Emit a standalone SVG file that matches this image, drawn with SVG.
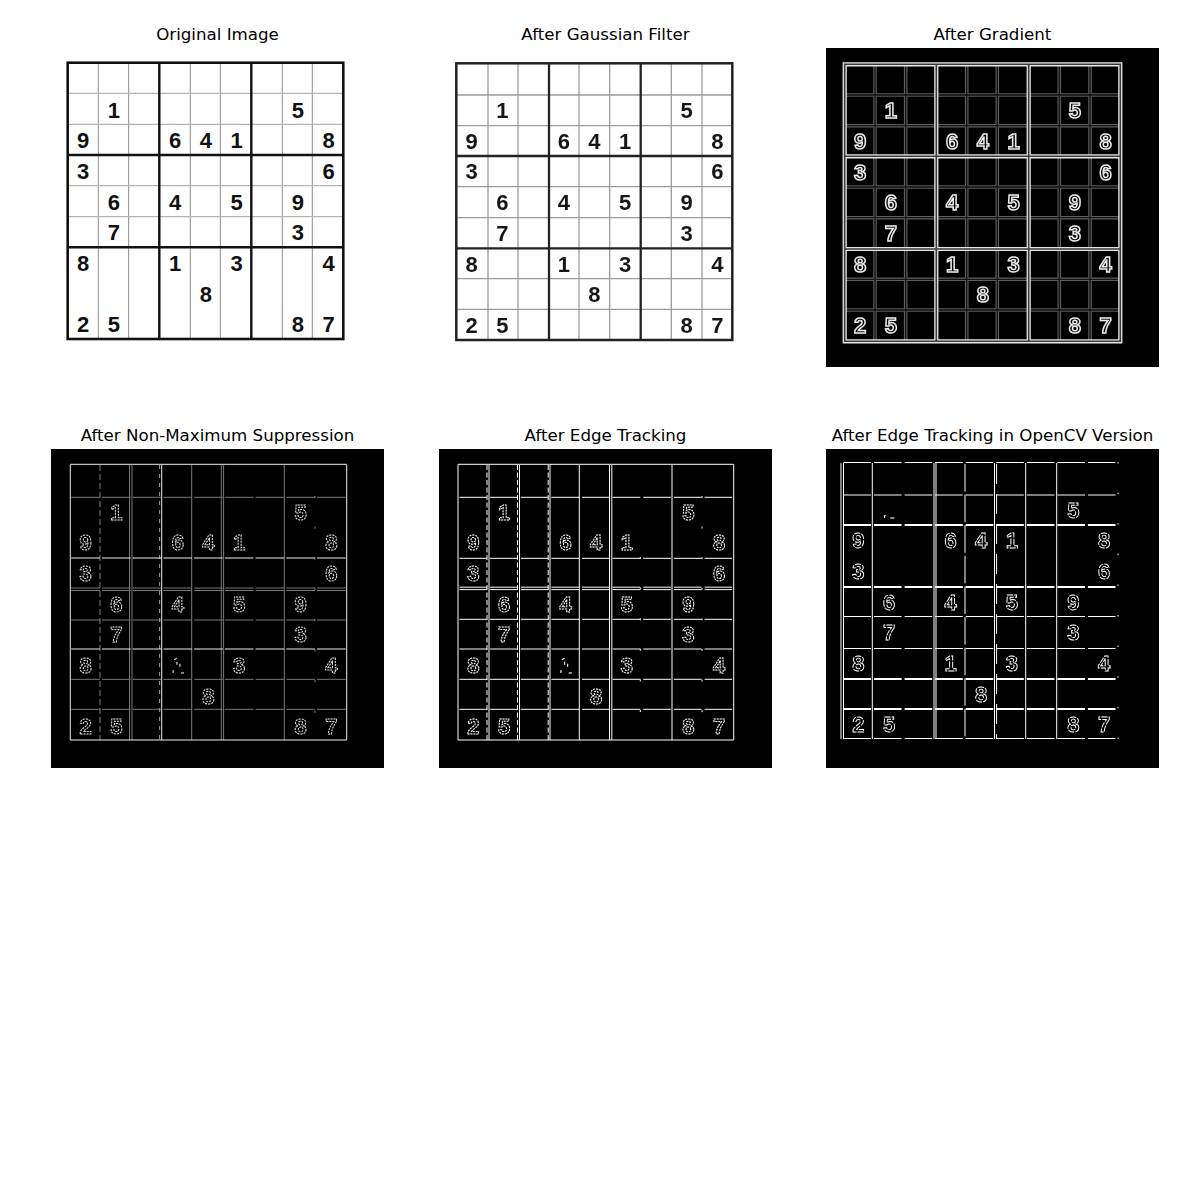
<svg xmlns="http://www.w3.org/2000/svg" xmlns:xlink="http://www.w3.org/1999/xlink" width="1200" height="1200" viewBox="0 0 1200 1200">
<style>
.title{font-family:"DejaVu Sans",sans-serif;font-size:16.67px;fill:#000;text-anchor:middle}
.dg text{font-family:"Liberation Sans",Arial,sans-serif;font-weight:bold;font-size:22px;text-anchor:middle}
.d1 text{fill:#111}
.d2 text{fill:#161616}
.d3 text{fill:#000;stroke:#ececec;stroke-width:1.5}
.d4 text{fill:none;stroke:#e0e0e0;stroke-width:1;stroke-dasharray:2 1}
.d5 text{fill:none;stroke:#fff;stroke-width:1;stroke-dasharray:2 0.9}
.d6 text{fill:none;stroke:#fff;stroke-width:0.9;stroke-dasharray:6 1.2}
.d4 text.frag,.d5 text.frag{stroke-dasharray:3 9}
.d6 text.frag{stroke-dasharray:4 45}
.ln{fill:none}
</style>
<defs>
<filter id="blur" x="-5%" y="-5%" width="110%" height="110%"><feGaussianBlur stdDeviation="0.6"/></filter>
<filter id="blur3" x="-5%" y="-5%" width="110%" height="110%"><feGaussianBlur stdDeviation="0.35"/></filter>
<filter id="gray" x="-5%" y="-5%" width="110%" height="110%"><feColorMatrix type="saturate" values="0"/></filter>
<path id="p3thin" d="M875 64.3V341.3M905.7 64.3V341.3M966.7 64.3V341.3M997.3 64.3V341.3M1059.3 64.3V341.3M1090 64.3V341.3M844.7 95H1120.3M844.7 125.7H1120.3M844.7 187H1120.3M844.7 217.7H1120.3M844.7 279.3H1120.3M844.7 310H1120.3"/>
<path id="p3thick" d="M936.3 64.3V341.3M1028.7 64.3V341.3M844.7 156.3H1120.3M844.7 249H1120.3M844.7 64.3H1120.3V341.3H844.7Z"/>
</defs>
<rect width="1200" height="1200" fill="#fff"/>

<g id="titles">
<text class="title" x="217.5" y="40">Original Image</text>
<text class="title" x="605.5" y="40">After Gaussian Filter</text>
<text class="title" x="992.5" y="40">After Gradient</text>
<text class="title" x="217.5" y="441">After Non-Maximum Suppression</text>
<text class="title" x="605.5" y="441">After Edge Tracking</text>
<text class="title" x="992.5" y="441">After Edge Tracking in OpenCV Version</text>
</g>

<!-- Panel 1: Original -->
<g id="panel-original">
<path class="ln" stroke="#8c8c8c" stroke-width="1" d="M98.3 62.7V339M128.7 62.7V339M190.3 62.7V339M220.3 62.7V339M282.3 62.7V339M312.3 62.7V339"/>
<path class="ln" stroke="#b4b4b4" stroke-width="1.2" d="M67.7 93.3H343.3M67.7 124.3H343.3M67.7 185.7H343.3M67.7 216.7H343.3"/>
<path class="ln" stroke="#111" stroke-width="2.4" d="M159.3 62.7V339M251.3 62.7V339M67.7 155H343.3M67.7 247.3H343.3"/>
<rect x="67.7" y="62.7" width="275.6" height="276.3" fill="none" stroke="#111" stroke-width="2.6"/>
<g class="dg d1" transform="translate(67.7,63.5)">
<text x="46.1" y="54">1</text><text x="230.3" y="54">5</text>
<text x="15.4" y="84.7">9</text><text x="107.5" y="84.7">6</text><text x="138.2" y="84.7">4</text><text x="168.9" y="84.7">1</text><text x="261" y="84.7">8</text>
<text x="15.4" y="115.4">3</text><text x="261" y="115.4">6</text>
<text x="46.1" y="146.1">6</text><text x="107.5" y="146.1">4</text><text x="168.9" y="146.1">5</text><text x="230.3" y="146.1">9</text>
<text x="46.1" y="176.8">7</text><text x="230.3" y="176.8">3</text>
<text x="15.4" y="207.5">8</text><text x="107.5" y="207.5">1</text><text x="168.9" y="207.5">3</text><text x="261" y="207.5">4</text>
<text x="138.2" y="238.2">8</text>
<text x="15.4" y="268.9">2</text><text x="46.1" y="268.9">5</text><text x="230.3" y="268.9">8</text><text x="261" y="268.9">7</text>
</g>
</g>

<!-- Panel 2: Gaussian -->
<g id="panel-gaussian" filter="url(#blur)">
<path class="ln" stroke="#9c9c9c" stroke-width="1.3" d="M488 63.3V340M518 63.3V340M579 63.3V340M609.7 63.3V340M671.3 63.3V340M702 63.3V340M456.3 95H732.3M456.3 125.7H732.3M456.3 186.7H732.3M456.3 217.7H732.3M456.3 278.7H732.3M456.3 309.3H732.3"/>
<path class="ln" stroke="#222" stroke-width="2.3" d="M549 63.3V340M640.7 63.3V340M456.3 156H732.3M456.3 248.3H732.3"/>
<rect x="456.3" y="63.3" width="276" height="276.7" fill="none" stroke="#222" stroke-width="2.5"/>
<g class="dg d2" transform="translate(456.3,64)">
<text x="46.1" y="54">1</text><text x="230.3" y="54">5</text>
<text x="15.4" y="84.7">9</text><text x="107.5" y="84.7">6</text><text x="138.2" y="84.7">4</text><text x="168.9" y="84.7">1</text><text x="261" y="84.7">8</text>
<text x="15.4" y="115.4">3</text><text x="261" y="115.4">6</text>
<text x="46.1" y="146.1">6</text><text x="107.5" y="146.1">4</text><text x="168.9" y="146.1">5</text><text x="230.3" y="146.1">9</text>
<text x="46.1" y="176.8">7</text><text x="230.3" y="176.8">3</text>
<text x="15.4" y="207.5">8</text><text x="107.5" y="207.5">1</text><text x="168.9" y="207.5">3</text><text x="261" y="207.5">4</text>
<text x="138.2" y="238.2">8</text>
<text x="15.4" y="268.9">2</text><text x="46.1" y="268.9">5</text><text x="230.3" y="268.9">8</text><text x="261" y="268.9">7</text>
</g>
</g>

<!-- Panel 3: Gradient -->
<g id="panel-gradient">
<rect x="826" y="48" width="333" height="319" fill="#000"/>
<g filter="url(#blur3)">
<use xlink:href="#p3thin" fill="none" stroke="#5c5c5c" stroke-width="3.6"/>
<use xlink:href="#p3thin" fill="none" stroke="#121212" stroke-width="1.3"/>
<use xlink:href="#p3thick" fill="none" stroke="#e6e6e6" stroke-width="4.2"/>
<use xlink:href="#p3thick" fill="none" stroke="#3a3a3a" stroke-width="1.6"/>
<g class="dg d3" transform="translate(844.7,64.3)">
<text x="46.1" y="54">1</text><text x="230.3" y="54">5</text>
<text x="15.4" y="84.7">9</text><text x="107.5" y="84.7">6</text><text x="138.2" y="84.7">4</text><text x="168.9" y="84.7">1</text><text x="261" y="84.7">8</text>
<text x="15.4" y="115.4">3</text><text x="261" y="115.4">6</text>
<text x="46.1" y="146.1">6</text><text x="107.5" y="146.1">4</text><text x="168.9" y="146.1">5</text><text x="230.3" y="146.1">9</text>
<text x="46.1" y="176.8">7</text><text x="230.3" y="176.8">3</text>
<text x="15.4" y="207.5">8</text><text x="107.5" y="207.5">1</text><text x="168.9" y="207.5">3</text><text x="261" y="207.5">4</text>
<text x="138.2" y="238.2">8</text>
<text x="15.4" y="268.9">2</text><text x="46.1" y="268.9">5</text><text x="230.3" y="268.9">8</text><text x="261" y="268.9">7</text>
</g>
</g>
</g>

<!-- Panel 4: Non-Maximum Suppression -->
<g id="panel-nms">
<rect x="51" y="449" width="333" height="319" fill="#000"/>
<path class="ln" stroke="#7a7a7a" stroke-width="1" stroke-dasharray="28.71 2" d="M71.3 497.3H345.7M71.3 588H345.7M71.3 590.5H345.7M71.3 620H345.7M71.3 679.3H345.7M71.3 709.3H345.7"/>
<path class="ln" stroke="#7a7a7a" stroke-width="1" d="M129.5 465V740M132 465V740M191.7 465V740M221.3 465V740M223.6 465V740M284.3 465V740"/>
<path class="ln" stroke="#7a7a7a" stroke-width="1" stroke-dasharray="6 3" d="M100 465V740"/>
<path class="ln" stroke="#9a9a9a" stroke-width="1" stroke-dasharray="4 5" d="M159.6 465V740"/>
<path class="ln" stroke="#888" stroke-width="1" stroke-dasharray="2 28.7" d="M315 496V740"/>
<path class="ln" stroke="#eee" stroke-width="1" d="M70.3 464.3H346.7M70.3 740H346.7M70.3 464.3V740M346.7 464.3V740M161.7 465V740"/>
<path class="ln" stroke="#eee" stroke-width="1" stroke-dasharray="28.71 2" d="M71.3 558H345.7M71.3 649H345.7"/>
<g class="dg d4" transform="translate(70.3,465.5)" filter="url(#gray)">
<text x="46.1" y="54">1</text><text x="230.3" y="54">5</text>
<text x="15.4" y="84.7">9</text><text x="107.5" y="84.7">6</text><text x="138.2" y="84.7">4</text><text x="168.9" y="84.7">1</text><text x="261" y="84.7">8</text>
<text x="15.4" y="115.4">3</text><text x="261" y="115.4">6</text>
<text x="46.1" y="146.1">6</text><text x="107.5" y="146.1">4</text><text x="168.9" y="146.1">5</text><text x="230.3" y="146.1">9</text>
<text x="46.1" y="176.8">7</text><text x="230.3" y="176.8">3</text>
<text x="15.4" y="207.5">8</text><text class="frag" x="107.5" y="207.5">1</text><text x="168.9" y="207.5">3</text><text x="261" y="207.5">4</text>
<text x="138.2" y="238.2">8</text>
<text x="15.4" y="268.9">2</text><text x="46.1" y="268.9">5</text><text x="230.3" y="268.9">8</text><text x="261" y="268.9">7</text>
</g>
</g>

<!-- Panel 5: Edge Tracking -->
<g id="panel-edge">
<rect x="439" y="449" width="333" height="319" fill="#000"/>
<path class="ln" stroke="#fff" stroke-width="1" d="M458 464.3H733.7M458 740H733.7M458 464.3V740M733.7 464.3V740M489 465V740M519.5 465V740M550 465V740M579.3 465V740M609.5 465V740M611.8 465V740M672 465V740"/>
<path class="ln" stroke="#fff" stroke-width="1" stroke-dasharray="5 2.5" d="M487 465V740M517.5 465V740M548.2 465V740"/>
<path class="ln" stroke="#fff" stroke-width="1" stroke-dasharray="27.63 3" d="M459.5 497.3H732.2M459.5 558.3H732.2M459.5 587.2H732.2M459.5 589.6H732.2M459.5 619.3H732.2M459.5 649H732.2M459.5 679.3H732.2M459.5 709.3H732.2"/>
<path class="ln" stroke="#fff" stroke-width="1" stroke-dasharray="2 28.6" d="M702 496V740M640.3 557V740"/>
<g class="dg d5" transform="translate(458,465.5)" filter="url(#gray)">
<text x="46.1" y="54">1</text><text x="230.3" y="54">5</text>
<text x="15.4" y="84.7">9</text><text x="107.5" y="84.7">6</text><text x="138.2" y="84.7">4</text><text x="168.9" y="84.7">1</text><text x="261" y="84.7">8</text>
<text x="15.4" y="115.4">3</text><text x="261" y="115.4">6</text>
<text x="46.1" y="146.1">6</text><text x="107.5" y="146.1">4</text><text x="168.9" y="146.1">5</text><text x="230.3" y="146.1">9</text>
<text x="46.1" y="176.8">7</text><text x="230.3" y="176.8">3</text>
<text x="15.4" y="207.5">8</text><text class="frag" x="107.5" y="207.5">1</text><text x="168.9" y="207.5">3</text><text x="261" y="207.5">4</text>
<text x="138.2" y="238.2">8</text>
<text x="15.4" y="268.9">2</text><text x="46.1" y="268.9">5</text><text x="230.3" y="268.9">8</text><text x="261" y="268.9">7</text>
</g>
</g>

<!-- Panel 6: Edge Tracking in OpenCV -->
<g id="panel-opencv">
<rect x="826" y="449" width="333" height="319" fill="#000"/>
<path class="ln" stroke="#fff" stroke-width="1" d="M841 463V739M843.5 463V739M872.3 463V739M934 463V739M936 463V739M994.5 463V739M1025.7 463V739M1056.7 463V739"/>
<path class="ln" stroke="#fff" stroke-width="1" stroke-dasharray="27.6 3" d="M965 464V739"/>
<path class="ln" stroke="#fff" stroke-width="1" stroke-dasharray="20 10" d="M996.6 464V739"/>
<path class="ln" stroke="#fff" stroke-width="1" stroke-dasharray="27.56 3" d="M843.5 462.5H1115.5M843.5 495H1115.5M843.5 616.5H1115.5M843.5 648.5H1115.5M843.5 738.5H1115.5"/>
<path class="ln" stroke="#fff" stroke-width="2" stroke-dasharray="27.56 3" d="M843.5 525H1115.5M843.5 587H1115.5M843.5 679H1115.5M843.5 709H1115.5"/>
<path class="ln" stroke="#fff" stroke-width="1" stroke-dasharray="1.5 29.1" d="M1118 462V740"/>
<g class="dg d6" transform="translate(843,463.5)" filter="url(#gray)">
<text class="frag" x="46.1" y="54">1</text><text x="230.3" y="54">5</text>
<text x="15.4" y="84.7">9</text><text x="107.5" y="84.7">6</text><text x="138.2" y="84.7">4</text><text x="168.9" y="84.7">1</text><text x="261" y="84.7">8</text>
<text x="15.4" y="115.4">3</text><text x="261" y="115.4">6</text>
<text x="46.1" y="146.1">6</text><text x="107.5" y="146.1">4</text><text x="168.9" y="146.1">5</text><text x="230.3" y="146.1">9</text>
<text x="46.1" y="176.8">7</text><text x="230.3" y="176.8">3</text>
<text x="15.4" y="207.5">8</text><text x="107.5" y="207.5">1</text><text x="168.9" y="207.5">3</text><text x="261" y="207.5">4</text>
<text x="138.2" y="238.2">8</text>
<text x="15.4" y="268.9">2</text><text x="46.1" y="268.9">5</text><text x="230.3" y="268.9">8</text><text x="261" y="268.9">7</text>
</g>
</g>
</svg>
